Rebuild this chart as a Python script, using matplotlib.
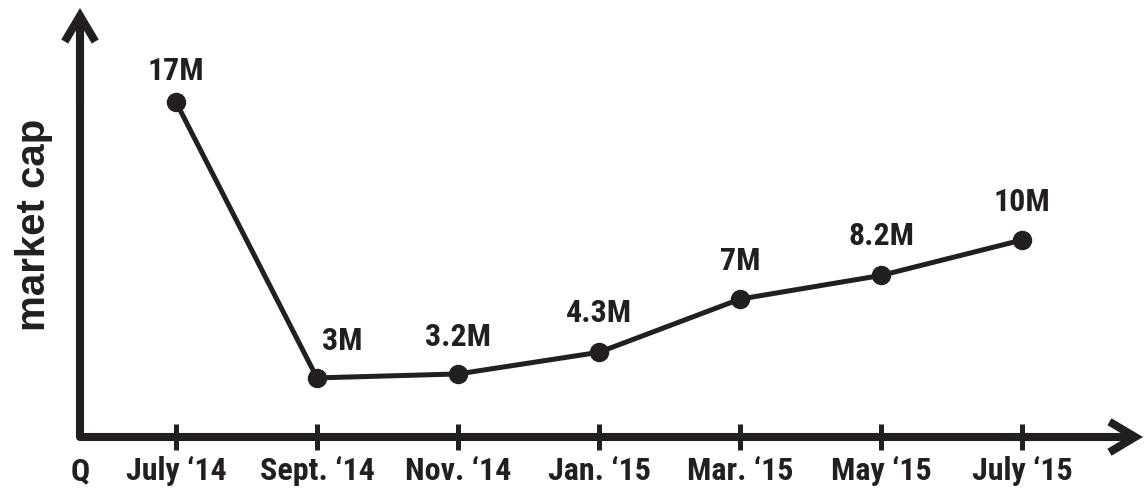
import matplotlib
matplotlib.use("Agg")
import matplotlib.pyplot as plt
from matplotlib import font_manager as fm

# ---- data ----
categories = ["July ‘14", "Sept. ‘14", "Nov. ‘14", "Jan. ‘15", "Mar. ‘15", "May ‘15", "July ‘15"]
market_cap = [17, 3, 3.2, 4.3, 7, 8.2, 10]          # millions
value_labels = ["17M", "3M", "3.2M", "4.3M", "7M", "8.2M", "10M"]
origin_label = "Q"
y_title = "market cap"

# ---- fonts ----
names = {f.name for f in fm.fontManager.ttflist}
cond_family = "DejaVu Sans"
for cand in ["Roboto Condensed", "Archivo Narrow", "Barlow Condensed", "Liberation Sans Narrow", "Asap Condensed"]:
    if cand in names:
        cond_family = cand
        break
cond = dict(family=[cond_family, "DejaVu Sans"], weight="bold")
title_family = [n for n in ["Liberation Sans", "Arimo", "DejaVu Sans"] if n in names][:1] + ["DejaVu Sans"]

INK = "#231f20"
W, H, DPI = 1146, 493, 100
fig = plt.figure(figsize=(W / DPI, H / DPI), dpi=DPI)
ax = fig.add_axes([0, 0, 1, 1])
ax.axis("off")

# layout (pixels) -> data limits
px_x0, px_step = 176, 141          # pixel of first category, spacing
px_base, px_per_unit = 437, 19.7   # pixel of y=0, pixels per million
ax.set_xlim(-px_x0 / px_step, (W - px_x0) / px_step)
ax.set_ylim(-(H - px_base) / px_per_unit, px_base / px_per_unit)

def px2x(p):
    return (p - px_x0) / px_step

def px2y(p):
    return (px_base - p) / px_per_unit

x = list(range(len(categories)))
x_axis = px2x(80)
x_tip = px2x(1143)
y_tip = px2y(8)

# axes (L shape)
ax.plot([x_axis, x_axis, x_tip - 0.05], [y_tip - 0.3, 0, 0], color=INK, lw=5.8,
        solid_joinstyle="round", solid_capstyle="butt", zorder=2)
for xy, xyt in [((x_tip, 0), (x_tip - 1, 0)), ((x_axis, y_tip), (x_axis, y_tip - 5))]:
    ax.annotate("", xy=xy, xytext=xyt,
                arrowprops=dict(arrowstyle="->,head_length=0.42,head_width=0.25",
                                lw=5.8, color=INK, mutation_scale=44,
                                shrinkA=0, shrinkB=0, joinstyle="miter", capstyle="butt"),
                zorder=2)

# ticks
tick_half = 13 / px_per_unit
ax.vlines(x, -tick_half, tick_half, color=INK, lw=3.6, zorder=2)

# tick labels
label_y = px2y(480)
for xi, lab in zip(x, categories):
    ax.text(xi, label_y, lab, ha="center", va="baseline", fontsize=23, color=INK, **cond)
ax.text(x_axis, label_y, origin_label, ha="center", va="baseline", fontsize=23, color=INK, **cond)

# data line
ax.plot(x, market_cap, color=INK, lw=3.6, marker="o", markersize=13, zorder=3,
        solid_joinstyle="round")

# value labels
offsets = [(0, 16), (18, 20), (0, 20), (0, 22), (0, 21), (0, 22), (0, 21)]
for xi, v, lab, (dx, dy) in zip(x, market_cap, value_labels, offsets):
    ax.annotate(lab, (xi, v), xytext=(dx, dy), textcoords="offset points",
                ha="center", va="baseline", fontsize=23, color=INK, **cond)

# y title
ax.text(px2x(34), px2y(225), y_title, rotation=90, ha="center", va="center",
        fontsize=29, fontweight="bold", family=title_family, color=INK)

fig.savefig("out.png", dpi=DPI)
